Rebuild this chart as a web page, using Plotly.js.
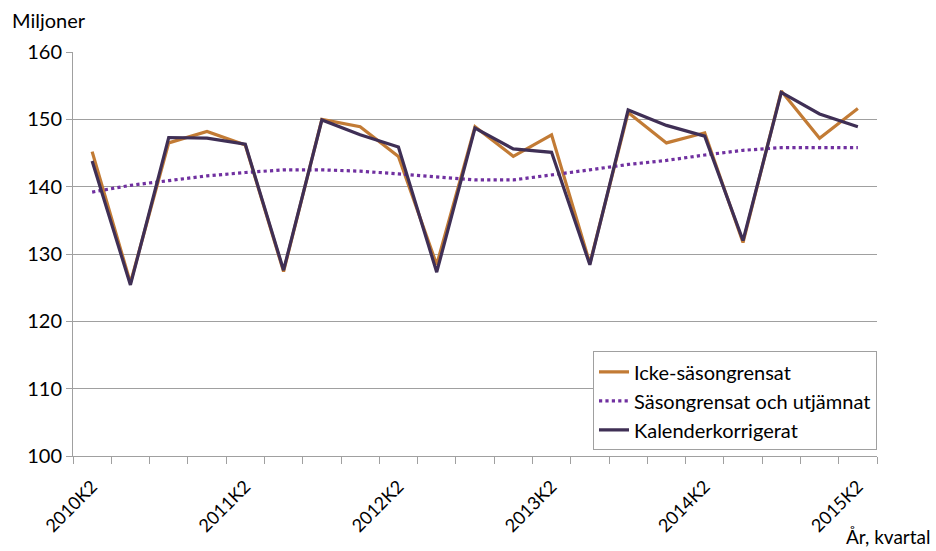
<!DOCTYPE html>
<html>
<head>
<meta charset="utf-8">
<script src="https://cdn.plot.ly/plotly-3.0.1.min.js"></script>
<style>html,body{margin:0;padding:0;background:#fff;}#chart{width:936px;height:551px;}</style>
</head>
<body>
<div id="chart"></div>
<script>
const quarters = ["2010K2","2010K3","2010K4","2011K1","2011K2","2011K3","2011K4","2012K1","2012K2","2012K3","2012K4","2013K1","2013K2","2013K3","2013K4","2014K1","2014K2","2014K3","2014K4","2015K1","2015K2"];
const ickeSasong = [145.2,125.7,146.5,148.2,146.2,127.4,150.0,148.9,144.5,128.4,148.9,144.5,147.7,128.6,151.0,146.5,148.0,131.7,154.2,147.2,151.6];
const sasongUtjamnat = [139.2,140.2,140.9,141.6,142.1,142.5,142.5,142.3,141.9,141.4,141.0,141.0,141.7,142.5,143.3,143.9,144.7,145.4,145.8,145.8,145.8];
const kalender = [143.8,125.4,147.3,147.2,146.3,127.6,149.9,147.7,145.9,127.3,148.7,145.6,145.1,128.4,151.4,149.1,147.5,132.0,154.0,150.8,148.9];
const labelEvery = 4;

const xIdx = quarters.map((_, i) => i);
const tickIdx = xIdx.filter(i => i % labelEvery === 0);
const tickTxt = tickIdx.map(i => quarters[i]);

const FONT = "Lato, 'Open Sans', sans-serif";

const traces = [
  {x: xIdx, y: ickeSasong, name: "Icke-säsongrensat", type: "scatter", mode: "lines",
   line: {color: "#C27B35", width: 3.2}},
  {x: xIdx, y: sasongUtjamnat, name: "Säsongrensat och utjämnat", type: "scatter", mode: "lines",
   line: {color: "#7030A0", width: 3.2, dash: "dot"}},
  {x: xIdx, y: kalender, name: "Kalenderkorrigerat", type: "scatter", mode: "lines",
   line: {color: "#3F2F55", width: 3.2}}
];

const layout = {
  width: 936, height: 551,
  margin: {l: 73, r: 59, t: 52, b: 95},
  paper_bgcolor: "#fff", plot_bgcolor: "#fff",
  font: {family: FONT, size: 20, color: "#000"},
  showlegend: true,
  legend: {x: 1, y: 0.259, xanchor: "right", yanchor: "top",
           bgcolor: "#fff", bordercolor: "#A0A0A0", borderwidth: 1,
           font: {family: FONT, size: 20, color: "#000"}, traceorder: "normal"},
  xaxis: {
    type: "linear", range: [-0.5, quarters.length - 0.5],
    tickvals: tickIdx, ticktext: tickTxt, tickangle: -45,
    ticks: "", showgrid: false, zeroline: false,
    showline: true, linecolor: "#A0A0A0", linewidth: 1,
    ticklabelstandoff: 12,
    minor: {ticks: "outside", tick0: -0.5, dtick: 1, ticklen: 7, tickcolor: "#A0A0A0", showgrid: false},
    tickfont: {family: FONT, size: 18, color: "#000"}, fixedrange: true
  },
  yaxis: {
    range: [100, 160], dtick: 10, tick0: 100,
    showgrid: true, gridcolor: "#A0A0A0", gridwidth: 1,
    showline: true, linecolor: "#A0A0A0", linewidth: 1, zeroline: false,
    ticks: "outside", ticklen: 6, tickcolor: "#A0A0A0",
    tickfont: {family: FONT, size: 20, color: "#000"}, fixedrange: true
  },
  annotations: [
    {text: "Miljoner", xref: "paper", yref: "paper", x: -0.078, y: 1.078, xanchor: "left", yanchor: "middle",
     showarrow: false, font: {family: FONT, size: 20, color: "#000"}},
    {text: "År, kvartal", xref: "paper", yref: "paper", x: 1.07, y: -0.2, xanchor: "right", yanchor: "middle",
     showarrow: false, font: {family: FONT, size: 19, color: "#000"}}
  ]
};

Plotly.newPlot("chart", traces, layout, {displayModeBar: false, staticPlot: true});
</script>
</body>
</html>
